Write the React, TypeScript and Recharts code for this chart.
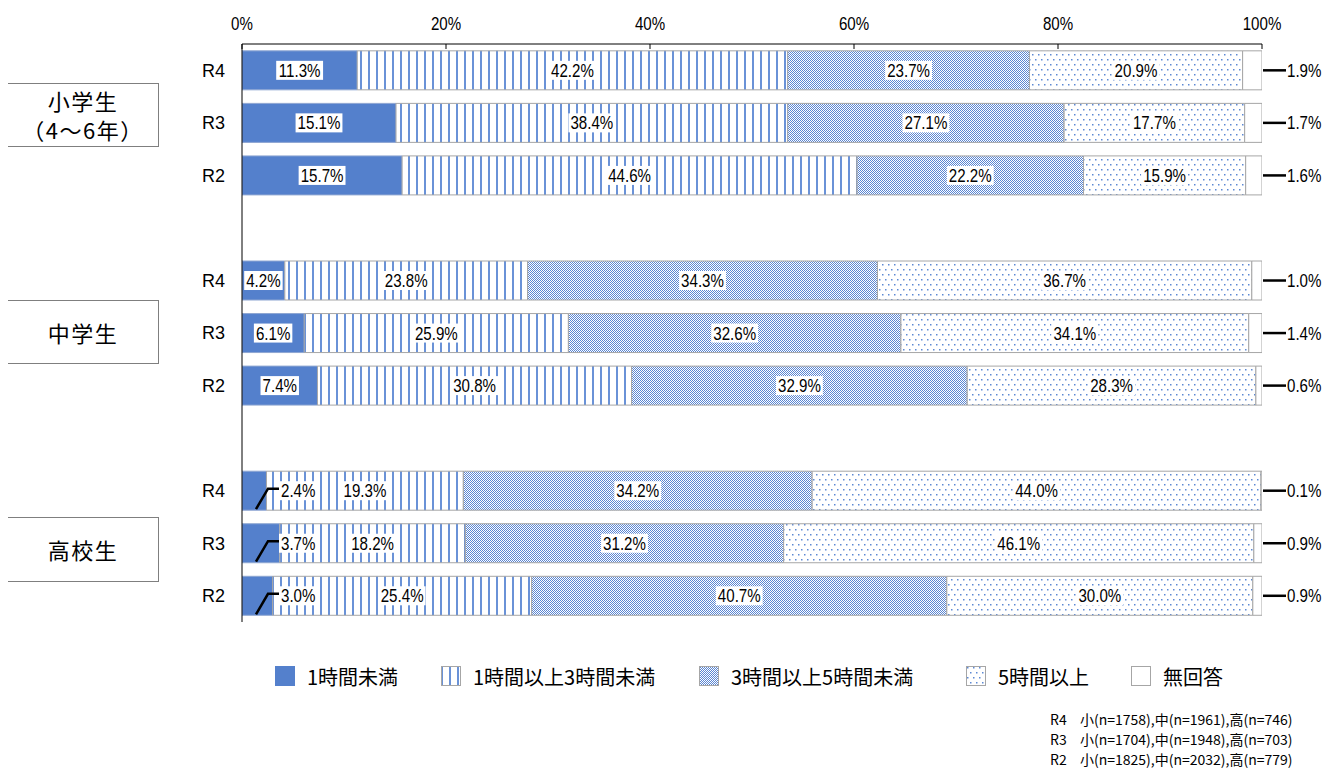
import React from "react";
import { Bar, BarChart, LabelList, XAxis, YAxis } from "recharts";

const rowKeys = ["e4", "e3", "e2", "gap1", "j4", "j3", "j2", "gap2", "h4", "h3", "h2"];
const rowLabels = ["R4", "R3", "R2", "", "R4", "R3", "R2", "", "R4", "R3", "R2"];

const under1h = [11.3, 15.1, 15.7, null, 4.2, 6.1, 7.4, null, 2.4, 3.7, 3.0];
const h1to3 = [42.2, 38.4, 44.6, null, 23.8, 25.9, 30.8, null, 19.3, 18.2, 25.4];
const h3to5 = [23.7, 27.1, 22.2, null, 34.3, 32.6, 32.9, null, 34.2, 31.2, 40.7];
const over5h = [20.9, 17.7, 15.9, null, 36.7, 34.1, 28.3, null, 44.0, 46.1, 30.0];
const noAnswer = [1.9, 1.7, 1.6, null, 1.0, 1.4, 0.6, null, 0.1, 0.9, 0.9];

const seriesNames = ["1時間未満", "1時間以上3時間未満", "3時間以上5時間未満", "5時間以上", "無回答"];
const xTicks = [0, 20, 40, 60, 80, 100];

const sampleNotes = [
  ["R4", "小(n=1758),中(n=1961),高(n=746)"],
  ["R3", "小(n=1704),中(n=1948),高(n=703)"],
  ["R2", "小(n=1825),中(n=2032),高(n=779)"],
];

const fills = ["url(#p-solid)", "url(#p-stripe)", "url(#p-check)", "url(#p-dots)", "#ffffff"];
const legendX = [267, 433, 691, 958, 1123];

const data = rowKeys.map((key, i) => ({
  key,
  s0: under1h[i],
  s1: h1to3[i],
  s2: h3to5[i],
  s3: over5h[i],
  s4: noAnswer[i],
}));

const numFont = "'Liberation Sans', Arial, sans-serif";
const jpFont = "'Noto Sans CJK JP', 'Noto Sans', sans-serif";
const squeeze = 0.84;

function textWidth(t: string) {
  let w = 0;
  for (const c of t) {
    if (c === ".") w += 0.278;
    else if (c === "%") w += 0.889;
    else w += 0.556;
  }
  return w * 18 * squeeze;
}

// narrow-looking number text
function NarrowText({ x, y, anchor, children }: { x: number; y: number; anchor: string; children: any }) {
  return (
    <text
      transform={`translate(${x},${y}) scale(${squeeze},1)`}
      x={0}
      y={0}
      dy="0.36em"
      textAnchor={anchor}
      fontSize={18}
      fontFamily={numFont}
      fill="#000"
    >
      {children}
    </text>
  );
}

function makeLabel(series: number) {
  return (props: any) => {
    const vb = props.viewBox ?? props;
    const x = props.x ?? vb.x;
    const y = props.y ?? vb.y;
    const width = props.width ?? vb.width;
    const height = props.height ?? vb.height;
    const value = props.value;
    if (value == null || x == null) return null;
    const text = `${Number(value).toFixed(1)}%`;
    const cy = y + height / 2;
    const w = textWidth(text);
    if (series === 4) {
      const x0 = x + width;
      return (
        <g>
          <line x1={x0 + 1} x2={x0 + 24} y1={cy} y2={cy} stroke="#000" strokeWidth={2.5} />
          <NarrowText x={x0 + 25} y={cy} anchor="start">{text}</NarrowText>
        </g>
      );
    }
    if (series === 0 && value < 4) {
      const bx = x + 37;
      return (
        <g>
          <polyline
            points={`${bx - 23},${y + height - 1} ${bx - 11},${cy - 2} ${bx},${cy - 2}`}
            fill="none"
            stroke="#000"
            strokeWidth={2.5}
          />
          <rect x={bx} y={cy - 9.5} width={w + 4} height={19} fill="#fff" />
          <NarrowText x={bx + 2} y={cy} anchor="start">{text}</NarrowText>
        </g>
      );
    }
    const cx = x + width / 2;
    return (
      <g>
        <rect x={cx - w / 2 - 2} y={cy - 9.5} width={w + 4} height={19} fill="#fff" />
        <NarrowText x={cx} y={cy} anchor="middle">{text}</NarrowText>
      </g>
    );
  };
}

const XTick = (props: any) => {
  const { x, y, payload } = props;
  return (
    <g>
      <line x1={x} x2={x} y1={y} y2={y + 5} stroke="#000" />
      <NarrowText x={x} y={y - 20} anchor="middle">{`${payload.value}%`}</NarrowText>
    </g>
  );
};

const YTick = (props: any) => {
  const { x, y, payload } = props;
  const label = rowLabels[rowKeys.indexOf(payload.value)];
  if (!label) return null;
  return (
    <text x={x - 17} y={y} dy="0.36em" textAnchor="end" fontSize={18} fontFamily={numFont} fill="#000">
      {label}
    </text>
  );
};

const boxStyle: React.CSSProperties = {
  position: "absolute",
  left: -1,
  width: 150,
  border: "1px solid #7f7f7f",
  display: "flex",
  flexDirection: "column",
  alignItems: "center",
  justifyContent: "center",
  fontFamily: jpFont,
  fontSize: 22,
  lineHeight: "29px",
  letterSpacing: 1.5,
  color: "#000",
  background: "#fff",
};

function LegendIcon({ i }: { i: number }) {
  return (
    <svg width={20} height={20} style={{ display: "block" }}>
      <rect
        x={0.5}
        y={0.5}
        width={19}
        height={19}
        fill={fills[i]}
        stroke={i === 0 ? "#5480cc" : "#a6a6a6"}
      />
    </svg>
  );
}

export default function App() {
  return (
    <div style={{ position: "relative", width: 1320, height: 761 }}>
      <svg width={0} height={0} style={{ position: "absolute" }}>
        <defs>
          <pattern id="p-solid" width={4} height={4} patternUnits="userSpaceOnUse">
            <rect width={4} height={4} fill="#5480cc" />
          </pattern>
          <pattern id="p-stripe" width={8} height={8} patternUnits="userSpaceOnUse">
            <rect width={8} height={8} fill="#fff" />
            <rect x={0} width={2} height={8} fill="#6a92d7" />
          </pattern>
          <pattern id="p-check" width={2} height={2} patternUnits="userSpaceOnUse">
            <rect width={2} height={2} fill="#fff" />
            <rect x={0} y={0} width={1} height={1} fill="#5a86d3" />
            <rect x={1} y={1} width={1} height={1} fill="#5a86d3" />
          </pattern>
          <pattern id="p-dots" width={6} height={10} patternUnits="userSpaceOnUse">
            <rect width={6} height={10} fill="#fff" />
            <rect x={1} y={1} width={1.5} height={1.5} fill="#5d89d4" />
            <rect x={4} y={6} width={1.5} height={1.5} fill="#5d89d4" />
          </pattern>
        </defs>
      </svg>

      <BarChart
        width={1320}
        height={761}
        layout="vertical"
        data={data}
        margin={{ top: 6, right: 66, bottom: 147, left: 154 }}
        barCategoryGap="13%"
      >
        <XAxis
          type="number"
          orientation="top"
          domain={[0, 100]}
          ticks={xTicks}
          interval={0}
          allowDataOverflow
          height={30}
          tickSize={0}
          tickMargin={0}
          tickLine={false}
          axisLine={{ stroke: "#000" }}
          tick={<XTick />}
        />
        <YAxis
          type="category"
          dataKey="key"
          width={80}
          interval={0}
          tickSize={0}
          tickMargin={0}
          tickLine={false}
          axisLine={{ stroke: "#000" }}
          tick={<YTick />}
        />
        {[0, 1, 2, 3, 4].map((i) => (
          <Bar
            key={i}
            dataKey={`s${i}`}
            name={seriesNames[i]}
            stackId="a"
            fill={fills[i]}
            stroke={i === 0 ? "#8ea6d2" : "#a6a6a6"}
            strokeWidth={1}
            isAnimationActive={false}
          >
            <LabelList dataKey={`s${i}`} content={makeLabel(i)} />
          </Bar>
        ))}
      </BarChart>

      <div style={{ ...boxStyle, top: 75, height: 62 }}>
        <div>小学生</div>
        <div>（4〜6年）</div>
      </div>
      <div style={{ ...boxStyle, top: 292, height: 62 }}>
        <div>中学生</div>
      </div>
      <div style={{ ...boxStyle, top: 509, height: 63 }}>
        <div>高校生</div>
      </div>

      {seriesNames.map((n, i) => (
        <div
          key={n}
          style={{
            position: "absolute",
            left: legendX[i],
            top: 658,
            display: "flex",
            alignItems: "center",
            height: 20,
            fontFamily: jpFont,
            fontSize: 20,
            color: "#000",
            whiteSpace: "nowrap",
          }}
        >
          <LegendIcon i={i} />
          <span style={{ marginLeft: 12 }}>{n}</span>
        </div>
      ))}

      <div
        style={{
          position: "absolute",
          left: 1042,
          top: 701,
          fontFamily: jpFont,
          fontSize: 14,
          lineHeight: "20px",
          color: "#000",
          whiteSpace: "nowrap",
        }}
      >
        {sampleNotes.map(([r, t]) => (
          <div key={r}>
            <span style={{ display: "inline-block", width: 30 }}>{r}</span>
            {t}
          </div>
        ))}
      </div>
    </div>
  );
}
